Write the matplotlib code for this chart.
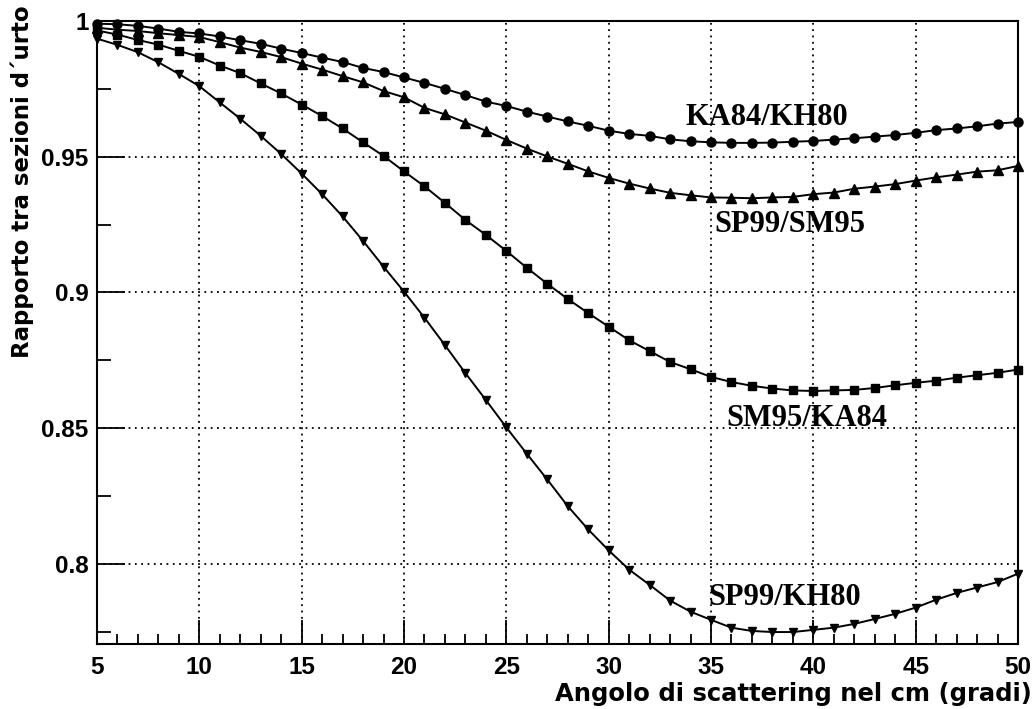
import matplotlib
matplotlib.use("Agg")
import matplotlib.pyplot as plt
import numpy as np

# scattering angle in the centre-of-mass frame (degrees)
angle = np.arange(5, 51)

ka84_kh80 = [0.9990, 0.9988, 0.9982, 0.9972, 0.9960, 0.9954, 0.9943, 0.9929, 0.9916, 0.9898,
             0.9882, 0.9865, 0.9849, 0.9827, 0.9812, 0.9792, 0.9772, 0.9750, 0.9727, 0.9703,
             0.9687, 0.9666, 0.9648, 0.9630, 0.9614, 0.9596, 0.9584, 0.9577, 0.9564, 0.9557,
             0.9553, 0.9551, 0.9551, 0.9552, 0.9555, 0.9558, 0.9563, 0.9568, 0.9574, 0.9580,
             0.9588, 0.9598, 0.9604, 0.9612, 0.9622, 0.9628]

sp99_sm95 = [0.9975, 0.9968, 0.9963, 0.9955, 0.9948, 0.9941, 0.9922, 0.9902, 0.9886, 0.9867,
             0.9843, 0.9821, 0.9797, 0.9774, 0.9742, 0.9719, 0.9680, 0.9656, 0.9626, 0.9596,
             0.9562, 0.9530, 0.9501, 0.9474, 0.9446, 0.9422, 0.9401, 0.9383, 0.9367, 0.9358,
             0.9350, 0.9349, 0.9347, 0.9350, 0.9352, 0.9362, 0.9368, 0.9382, 0.9390, 0.9399,
             0.9412, 0.9424, 0.9434, 0.9445, 0.9450, 0.9466]

sm95_ka84 = [0.9965, 0.9950, 0.9930, 0.9913, 0.9890, 0.9868, 0.9836, 0.9808, 0.9770, 0.9733,
             0.9692, 0.9650, 0.9604, 0.9553, 0.9503, 0.9446, 0.9391, 0.9330, 0.9267, 0.9212,
             0.9153, 0.9091, 0.9032, 0.8976, 0.8924, 0.8874, 0.8824, 0.8784, 0.8744, 0.8717,
             0.8689, 0.8670, 0.8656, 0.8646, 0.8639, 0.8637, 0.8639, 0.8641, 0.8648, 0.8658,
             0.8667, 0.8675, 0.8686, 0.8695, 0.8704, 0.8716]

sp99_kh80 = [0.9935, 0.9912, 0.9885, 0.9848, 0.9805, 0.9760, 0.9700, 0.9640, 0.9577, 0.9510,
             0.9438, 0.9362, 0.9280, 0.9190, 0.9095, 0.9003, 0.8907, 0.8806, 0.8703, 0.8604,
             0.8503, 0.8406, 0.8311, 0.8213, 0.8127, 0.8050, 0.7979, 0.7923, 0.7865, 0.7824,
             0.7794, 0.7765, 0.7753, 0.7749, 0.7749, 0.7757, 0.7765, 0.7779, 0.7797, 0.7816,
             0.7839, 0.7868, 0.7893, 0.7913, 0.7933, 0.7964]

x_ticks = [5, 10, 15, 20, 25, 30, 35, 40, 45, 50]
y_ticks = [0.8, 0.85, 0.9, 0.95, 1.0]
y_ticklabels = ["0.8", "0.85", "0.9", "0.95", "1"]

sans = ["Liberation Sans", "DejaVu Sans"]
wide = ["DejaVu Sans"]
serif = ["Liberation Serif", "DejaVu Serif"]

fig = plt.figure(figsize=(10.36, 7.09), dpi=100)
ax = fig.add_axes([0.0936, 0.0917, 0.8890, 0.8787])

series = [
    (ka84_kh80, "o", 6.5, "KA84/KH80", 37.75, 0.9618),
    (sp99_sm95, "^", 6.5, "SP99/SM95", 38.87, 0.9223),
    (sm95_ka84, "s", 6.0, "SM95/KA84", 39.70, 0.8509),
    (sp99_kh80, "v", 6.0, "SP99/KH80", 38.58, 0.7849),
]
for vals, mk, ms, name, tx, ty in series:
    ax.plot(angle, vals, color="black", lw=1.4, marker=mk, ms=ms,
            markerfacecolor="black", markeredgecolor="black", clip_on=False, zorder=3)
    ax.text(tx, ty, name, family=serif, fontweight="bold", fontsize=22,
            ha="center", va="baseline")

ax.set_xlim(5, 50)
ax.set_ylim(0.7705, 1.0)

ax.set_xticks(x_ticks)
ax.set_xticks(np.arange(5, 51, 1), minor=True)
ax.set_yticks(y_ticks)
ax.set_yticklabels(y_ticklabels)
ax.set_yticks(np.arange(0.775, 1.0, 0.05), minor=True)

ax.tick_params(axis="x", which="major", direction="in", length=17, width=1.3, pad=9)
ax.tick_params(axis="x", which="minor", direction="in", length=7, width=1.3)
ax.tick_params(axis="y", which="major", direction="in", length=20, width=1.3, pad=6)
ax.tick_params(axis="y", which="minor", direction="in", length=10, width=1.3)

for lab in ax.get_xticklabels() + ax.get_yticklabels():
    lab.set_family(sans)
    lab.set_fontweight("bold")
    lab.set_fontsize(17.5)

for sp in ax.spines.values():
    sp.set_linewidth(1.5)

# dotted grid at the inner major ticks only
for xv in x_ticks[1:-1]:
    ax.axvline(xv, color="black", lw=1.3, ls=(0, (1, 2.5)), zorder=1)
for yv in y_ticks[:-1]:
    ax.axhline(yv, color="black", lw=1.3, ls=(0, (1, 2.5)), zorder=1)

fig.text(1032 / 1036, 1 - 701 / 709, "Angolo di scattering nel cm (gradi)",
         family=wide, fontweight="bold", fontsize=17.5, ha="right", va="baseline")
fig.text(22 / 1036, 1 - 5 / 709, "Rapporto tra sezioni d\u00b4urto",
         family=wide, fontweight="bold", fontsize=16.5, rotation=90,
         ha="center", va="top")

fig.savefig("out.png", dpi=100)
